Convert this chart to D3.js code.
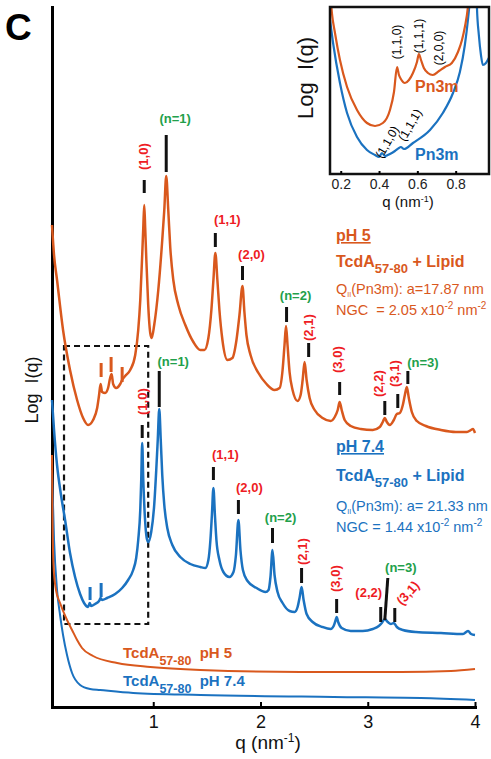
<!DOCTYPE html>
<html>
<head>
<meta charset="utf-8">
<script src="https://cdn.jsdelivr.net/npm/d3@7"></script>
<style>
  body { margin: 0; background: #fff; }
  text { font-family: "Liberation Sans", Arial, sans-serif; }
</style>
</head>
<body>
<div id="chart-area"></div>
<script>
// SAXS profiles, q in nm^-1, log I in arbitrary units (curves offset)
const qLipidPH5 = [0.056,0.075,0.103,0.159,0.224,0.290,0.346,0.393,0.439,0.477,0.495,0.509,0.523,0.551,0.579,0.598,0.612,0.626,0.654,0.692,0.710,0.738,0.785,0.832,0.860,0.879,0.897,0.907,0.916,0.925,0.935,0.953,0.972,0.986,1.009,1.047,1.084,1.103,1.121,1.140,1.159,1.187,1.234,1.299,1.374,1.439,1.477,1.514,1.542,1.561,1.579,1.598,1.617,1.645,1.692,1.738,1.776,1.804,1.832,1.850,1.869,1.907,1.981,2.056,2.131,2.178,2.206,2.224,2.238,2.252,2.271,2.299,2.346,2.374,2.393,2.411,2.430,2.458,2.505,2.579,2.654,2.692,2.720,2.738,2.757,2.785,2.841,2.935,3.047,3.112,3.140,3.159,3.178,3.206,3.243,3.271,3.299,3.327,3.346,3.364,3.383,3.411,3.458,3.542,3.682,3.822,3.925,3.963,3.981,4.0];
const logILipidPH5 = [4.82,4.52,4.27,3.77,3.37,3.07,2.89,2.82,2.87,2.99,3.12,3.23,3.15,3.14,3.19,3.29,3.33,3.23,3.19,3.23,3.27,3.31,3.37,3.52,3.77,4.07,4.52,4.79,5.02,4.79,4.49,4.02,3.74,3.69,3.82,4.17,4.67,4.97,5.31,4.97,4.59,4.27,4.02,3.82,3.65,3.57,3.57,3.69,3.97,4.27,4.54,4.27,3.97,3.67,3.47,3.49,3.67,3.92,4.21,3.95,3.72,3.52,3.34,3.23,3.17,3.19,3.37,3.62,3.81,3.62,3.35,3.17,3.06,3.12,3.27,3.45,3.27,3.09,2.97,2.89,2.86,2.90,2.97,3.05,2.97,2.87,2.81,2.78,2.77,2.80,2.85,2.89,2.85,2.82,2.87,2.93,2.94,3.02,3.12,3.20,3.09,2.95,2.86,2.81,2.77,2.75,2.75,2.77,2.78,2.74];

const qLipidPH74 = [0.056,0.075,0.103,0.140,0.178,0.224,0.271,0.318,0.355,0.393,0.407,0.421,0.458,0.495,0.509,0.523,0.570,0.645,0.710,0.766,0.813,0.841,0.860,0.879,0.888,0.897,0.907,0.921,0.939,0.953,0.981,1.009,1.028,1.042,1.056,1.070,1.084,1.103,1.131,1.178,1.252,1.346,1.439,1.486,1.514,1.533,1.547,1.561,1.575,1.589,1.617,1.654,1.710,1.748,1.771,1.794,1.813,1.836,1.879,1.963,2.047,2.075,2.093,2.112,2.131,2.159,2.206,2.271,2.318,2.346,2.364,2.383,2.402,2.430,2.486,2.579,2.654,2.682,2.701,2.710,2.724,2.757,2.841,2.953,3.047,3.103,3.131,3.159,3.187,3.215,3.243,3.271,3.327,3.449,3.682,3.888,3.935,3.963,4.0];
const logILipidPH74 = [3.07,2.77,2.42,2.12,1.87,1.54,1.30,1.13,1.04,1.00,1.04,1.01,1.03,1.06,1.09,1.07,1.09,1.13,1.19,1.27,1.37,1.49,1.67,1.97,2.27,2.64,2.27,1.92,1.69,1.65,1.75,2.02,2.37,2.67,2.98,2.67,2.32,2.02,1.79,1.62,1.50,1.43,1.40,1.39,1.47,1.67,1.92,2.19,1.92,1.67,1.47,1.35,1.30,1.35,1.52,1.87,1.57,1.37,1.26,1.19,1.15,1.17,1.30,1.57,1.32,1.15,1.04,0.96,0.95,1.00,1.09,1.20,1.07,0.93,0.85,0.80,0.78,0.81,0.87,0.90,0.85,0.79,0.76,0.76,0.78,0.81,0.84,0.88,0.85,0.83,0.84,0.80,0.77,0.75,0.74,0.73,0.76,0.73,0.72];

const qTcdAPH5 = [0.056,0.061,0.070,0.093,0.131,0.196,0.243,0.290,0.336,0.439,0.664,0.972,1.439,2.374,3.308,3.776,4.0];
const logITcdAPH5 = [2.52,1.87,1.42,1.17,1.04,0.87,0.77,0.67,0.59,0.51,0.44,0.40,0.37,0.35,0.35,0.36,0.38];

const qTcdAPH74 = [0.056,0.075,0.103,0.131,0.159,0.196,0.243,0.318,0.411,0.505,0.813,1.439,2.682,3.495,4.0];
const logITcdAPH74 = [2.37,1.67,1.17,0.92,0.72,0.52,0.34,0.22,0.18,0.17,0.14,0.12,0.10,0.09,0.07];

// reflections marked on the main plot
const peaksPH5 = ["(1,0)","(n=1)","(1,1)","(2,0)","(n=2)","(2,1)","(3,0)","(2,2)","(3,1)","(n=3)"];
const peakQPH5 = [0.916,1.121,1.579,1.832,2.243,2.449,2.738,3.159,3.280,3.374];
const tickTopPH5 = [5.27,5.72,4.74,4.41,4.00,3.64,3.25,3.06,3.13,3.36];
const tickBotPH5 = [5.14,5.35,4.60,4.27,3.85,3.50,3.12,2.92,2.99,3.23];

const peaksPH74 = ["(1,0)","(n=1)","(1,1)","(2,0)","(n=2)","(2,1)","(3,0)","(2,2)","(n=3)","(3,1)"];
const peakQPH74 = [0.897,1.056,1.561,1.794,2.112,2.383,2.710,3.121,3.187,3.252];
const tickTopPH74 = [2.82,3.36,2.40,2.07,1.79,1.39,1.08,1.00,1.29,0.99];
const tickBotPH74 = [2.69,3.00,2.27,1.93,1.64,1.24,0.94,0.85,0.87,0.85];

// Pn3m peaks (small coloured ticks)
const cubicQPH5 = [0.514,0.607,0.710];
const cubicTopPH5 = [3.44,3.50,3.40];
const cubicBotPH5 = [3.30,3.35,3.25];
const cubicQPH74 = [0.411,0.514];
const cubicTopPH74 = [1.20,1.24];
const cubicBotPH74 = [1.07,1.10];

// zoomed window (dashed box) shown in the inset
const zoomQ = [0.168, 0.953];
const zoomLogI = [0.83, 3.61];

// inset curves
const qInsetPH5 = [0.144,0.154,0.170,0.196,0.233,0.285,0.337,0.379,0.420,0.457,0.478,0.494,0.504,0.514,0.535,0.556,0.577,0.598,0.608,0.619,0.634,0.655,0.681,0.713,0.744,0.780,0.812,0.833,0.848,0.864,0.874];
const logIInsetPH5 = [1.85,1.61,1.41,1.14,0.87,0.64,0.51,0.48,0.51,0.64,0.82,1.07,0.99,0.95,0.91,0.94,1.01,1.12,1.20,1.14,1.06,1.01,0.99,1.03,1.07,1.11,1.22,1.34,1.47,1.67,1.90];
const qInsetPH74 = [0.144,0.160,0.196,0.233,0.285,0.337,0.379,0.400,0.415,0.431,0.457,0.483,0.504,0.514,0.530,0.577,0.666,0.733,0.786,0.822,0.848,0.864,0.874,0.885,0.906,0.911,0.921,0.932,0.942,0.958,0.973];
const logIInsetPH74 = [1.54,1.31,0.91,0.61,0.37,0.24,0.19,0.17,0.21,0.18,0.20,0.23,0.26,0.27,0.25,0.31,0.44,0.61,0.81,1.02,1.29,1.54,1.74,2.04,2.04,1.67,1.39,1.19,1.09,1.11,1.16];
const insetHklPH5 = ["(1,1,0)","(1,1,1)","(2,0,0)"];
const insetQPH5 = [0.494,0.608,0.713];
const insetHklPH74 = ["(1,1,0)","(1,1,1)"];
const insetQPH74 = [0.415,0.514];

const xTicks = [1,2,3,4];
const xTicksInset = [0.2,0.4,0.6,0.8];

// ---------------- layout ----------------
const ORANGE = "#d9581d", BLUE = "#1b72c0", RED = "#ee1c24", GREEN = "#22a04b";
const full_width = 491, full_height = 759;

const svg = d3.select("#chart-area").append("svg")
    .attr("width", full_width).attr("height", full_height);

const x = d3.scaleLinear().domain([0.056, 4.0]).range([52, 475]);
const y = d3.scaleLinear().domain([0, 7]).range([707, 7]);

// label offsets (px) relative to the top of each tick
const layoutPH5 = [
    {rot: -90, dx: -1, dy: -10}, {rot: 0, dx: 9, dy: -12}, {rot: 0, dx: 12, dy: -9},
    {rot: 0, dx: 9, dy: -7}, {rot: 0, dx: 9, dy: -7}, {rot: -90, dx: 0, dy: -2},
    {rot: -90, dx: -2, dy: -9}, {rot: -90, dx: -6, dy: -4}, {rot: -90, dx: -3, dy: -7},
    {rot: 0, dx: 15, dy: -4}
];
const layoutPH74 = [
    {rot: -90, dx: 0, dy: -10}, {rot: 0, dx: 14, dy: -5}, {rot: 0, dx: 12, dy: -8},
    {rot: 0, dx: 11, dy: -8}, {rot: 0, dx: 8, dy: -6}, {rot: -90, dx: 1, dy: -3},
    {rot: -90, dx: -1, dy: -7}, {rot: 0, dx: -12, dy: -10}, {rot: 0, dx: 13, dy: -6, slant: -3},
    {rot: -48, dx: 13, dy: -15}
];

// X axis
const xAxisCall = d3.axisBottom(x).tickValues(xTicks).tickFormat(d3.format("d"))
    .tickSizeInner(-5).tickSizeOuter(0).tickPadding(8);
const xAxis = svg.append("g").attr("transform", "translate(0, 707)").call(xAxisCall);
xAxis.select(".domain").attr("stroke-width", 3).attr("stroke-linecap", "square");
xAxis.selectAll(".tick line").attr("stroke-width", 2);
xAxis.selectAll("text").attr("font-size", "18px").attr("fill", "#111")
    .attr("font-family", "Liberation Sans, Arial, sans-serif");

// Y axis, no ticks
const yAxis = svg.append("g").attr("transform", "translate(52, 0)")
    .call(d3.axisLeft(y).tickValues([]).tickSizeOuter(0));
yAxis.select(".domain").attr("stroke-width", 3).attr("stroke-linecap", "square");

svg.append("text").attr("x", 268).attr("y", 749).attr("text-anchor", "middle")
    .attr("font-size", "19px").attr("fill", "#111")
    .html('q (nm<tspan font-size="12px" dy="-7">-1</tspan><tspan dy="7">)</tspan>');

svg.append("text").attr("transform", "translate(38, 390) rotate(-90)")
    .attr("text-anchor", "middle").attr("font-size", "18px").attr("fill", "#111")
    .style("white-space", "pre").text("Log  I(q)");

svg.append("text").attr("x", 5).attr("y", 40).attr("font-size", "37px")
    .attr("font-weight", "bold").text("C");

// dashed zoom box
svg.append("rect")
    .attr("x", x(zoomQ[0])).attr("y", y(zoomLogI[1]))
    .attr("width", x(zoomQ[1]) - x(zoomQ[0])).attr("height", y(zoomLogI[0]) - y(zoomLogI[1]))
    .attr("fill", "none").attr("stroke", "#111").attr("stroke-width", 2.2)
    .attr("stroke-dasharray", "6,4");

// curves
const line = d3.line().x(d => x(d[0])).y(d => y(d[1])).curve(d3.curveMonotoneX);
const series = [
    {q: qTcdAPH74, v: logITcdAPH74, c: BLUE, w: 2},
    {q: qTcdAPH5, v: logITcdAPH5, c: ORANGE, w: 2},
    {q: qLipidPH74, v: logILipidPH74, c: BLUE, w: 2.5},
    {q: qLipidPH5, v: logILipidPH5, c: ORANGE, w: 2.5}
];
series.forEach(s => {
    svg.append("path").datum(d3.zip(s.q, s.v))
        .attr("fill", "none").attr("stroke", s.c).attr("stroke-width", s.w)
        .attr("stroke-linejoin", "round").attr("d", line);
});

// small coloured ticks for the cubic peaks
function cubicTicks(qs, tops, bots, color) {
    svg.selectAll(null).data(qs).enter().append("line")
        .attr("x1", d => x(d)).attr("x2", d => x(d))
        .attr("y1", (d, i) => y(tops[i])).attr("y2", (d, i) => y(bots[i]))
        .attr("stroke", color).attr("stroke-width", 3);
}
cubicTicks(cubicQPH5, cubicTopPH5, cubicBotPH5, ORANGE);
cubicTicks(cubicQPH74, cubicTopPH74, cubicBotPH74, BLUE);

// reflection ticks + labels
function reflections(names, qs, tops, bots, layout) {
    names.forEach((name, i) => {
        const L = layout[i];
        const px = x(qs[i]), pt = y(tops[i]);
        svg.append("line")
            .attr("x1", px).attr("x2", px + (L.slant || 0))
            .attr("y1", pt).attr("y2", y(bots[i]))
            .attr("stroke", "#111").attr("stroke-width", 3);
        const t = svg.append("text").attr("font-size", "13px").attr("font-weight", "bold")
            .attr("fill", name.startsWith("(n") ? GREEN : RED).text(name);
        if (L.rot === -90) {
            t.attr("transform", "translate(" + (px + L.dx + 4.5) + ", " + (pt + L.dy) + ") rotate(-90)")
                .attr("text-anchor", "start");
        } else if (L.rot === 0) {
            t.attr("x", px + L.dx).attr("y", pt + L.dy).attr("text-anchor", "middle");
        } else {
            t.attr("transform", "translate(" + (px + L.dx) + ", " + (pt + L.dy) + ") rotate(" + L.rot + ")")
                .attr("text-anchor", "middle").attr("dy", "0.35em");
        }
    });
}
reflections(peaksPH5, peakQPH5, tickTopPH5, tickBotPH5, layoutPH5);
reflections(peaksPH74, peakQPH74, tickTopPH74, tickBotPH74, layoutPH74);

// rich text helper (sub / superscripts)
function richText(xp, yp, parts, size, weight, color) {
    const t = svg.append("text").attr("x", xp).attr("y", yp)
        .attr("font-size", size + "px").attr("font-weight", weight)
        .attr("fill", color).style("white-space", "pre");
    let shift = 0;
    parts.forEach(p => {
        const s = p.shift || 0;
        const ts = t.append("tspan").attr("dy", s - shift).text(p.t);
        if (p.size) ts.attr("font-size", p.size + "px");
        shift = s;
    });
    return t;
}

// pH 5 block
richText(336, 241, [{t: "pH 5"}], 16, "bold", ORANGE).attr("text-decoration", "underline");
richText(336, 267, [{t: "TcdA"}, {t: "57-80", shift: 6, size: 13}, {t: " + Lipid"}], 16, "bold", ORANGE);
richText(336, 294, [{t: "Q"}, {t: "II", shift: 3, size: 7}, {t: "(Pn3m): a=17.87 nm"}], 14.5, "normal", ORANGE);
richText(336, 315, [{t: "NGC  = 2.05 x10"}, {t: "-2", shift: -6, size: 10}, {t: " nm"}, {t: "-2", shift: -6, size: 10}], 14.5, "normal", ORANGE);

// pH 7.4 block
richText(336, 452, [{t: "pH 7.4"}], 16, "bold", BLUE).attr("text-decoration", "underline");
richText(336, 481, [{t: "TcdA"}, {t: "57-80", shift: 6, size: 13}, {t: " + Lipid"}], 16, "bold", BLUE);
richText(336, 511, [{t: "Q"}, {t: "II", shift: 3, size: 7}, {t: "(Pn3m): a= 21.33 nm"}], 14.5, "normal", BLUE);
richText(336, 532, [{t: "NGC = 1.44 x10"}, {t: "-2", shift: -6, size: 10}, {t: " nm"}, {t: "-2", shift: -6, size: 10}], 14.5, "normal", BLUE);

// protein-only labels
richText(123, 658, [{t: "TcdA"}, {t: "57-80", shift: 7, size: 12.5}, {t: "  pH 5"}], 15, "bold", ORANGE);
richText(123, 686, [{t: "TcdA"}, {t: "57-80", shift: 7, size: 12.5}, {t: "  pH 7.4"}], 15, "bold", BLUE);

// ---------------- inset ----------------
const xi = d3.scaleLinear().domain([0.144, 0.974]).range([330, 489]);
const yi = d3.scaleLinear().domain([0, 1.67]).range([174, 7]);
const inset = svg.append("g");

inset.append("clipPath").attr("id", "inset-clip").append("rect")
    .attr("x", 330).attr("y", 7).attr("width", 159).attr("height", 167);

const lineI = d3.line().x(d => xi(d[0])).y(d => yi(d[1])).curve(d3.curveMonotoneX);
[{q: qInsetPH74, v: logIInsetPH74, c: BLUE}, {q: qInsetPH5, v: logIInsetPH5, c: ORANGE}].forEach(s => {
    inset.append("path").datum(d3.zip(s.q, s.v))
        .attr("clip-path", "url(#inset-clip)")
        .attr("fill", "none").attr("stroke", s.c).attr("stroke-width", 2.2)
        .attr("d", lineI);
});

inset.append("rect").attr("x", 330).attr("y", 7).attr("width", 159).attr("height", 167)
    .attr("fill", "none").attr("stroke", "#111").attr("stroke-width", 2.5);

const xiAxis = inset.append("g").attr("transform", "translate(0, 174)")
    .call(d3.axisBottom(xi).tickValues(xTicksInset).tickFormat(d3.format(".1f"))
        .tickSizeInner(-3).tickSizeOuter(0).tickPadding(5));
xiAxis.select(".domain").remove();
xiAxis.selectAll(".tick line").attr("stroke-width", 2);
xiAxis.selectAll("text").attr("font-size", "14px").attr("fill", "#222")
    .attr("font-family", "Liberation Sans, Arial, sans-serif");

inset.append("text").attr("x", 408).attr("y", 207).attr("text-anchor", "middle")
    .attr("font-size", "15px").attr("fill", "#111")
    .html('q (nm<tspan font-size="9px" dy="-5">-1</tspan><tspan dy="5">)</tspan>');
inset.append("text").attr("transform", "translate(313, 78) rotate(-90)")
    .attr("text-anchor", "middle").attr("font-size", "22px").attr("fill", "#111")
    .style("white-space", "pre").text("Log  I(q)");

const insetLabelYPH5 = [42, 36, 48];
insetHklPH5.forEach((h, i) => {
    inset.append("text")
        .attr("transform", "translate(" + (xi(insetQPH5[i]) + 4) + ", " + insetLabelYPH5[i] + ") rotate(-90)")
        .attr("text-anchor", "middle").attr("font-size", "12px").attr("fill", "#000").text(h);
});
const insetLabelPosPH74 = [[5, 142], [9, 125]];
insetHklPH74.forEach((h, i) => {
    inset.append("text")
        .attr("transform", "translate(" + (xi(insetQPH74[i]) + insetLabelPosPH74[i][0]) + ", " + insetLabelPosPH74[i][1] + ") rotate(-60)")
        .attr("text-anchor", "middle").attr("dy", "0.35em").attr("font-size", "12px")
        .attr("fill", "#000").text(h);
});

inset.append("text").attr("x", 415).attr("y", 92).attr("font-size", "16px")
    .attr("font-weight", "bold").attr("fill", ORANGE).text("Pn3m");
inset.append("text").attr("x", 415).attr("y", 160).attr("font-size", "16px")
    .attr("font-weight", "bold").attr("fill", BLUE).text("Pn3m");
</script>
</body>
</html>
